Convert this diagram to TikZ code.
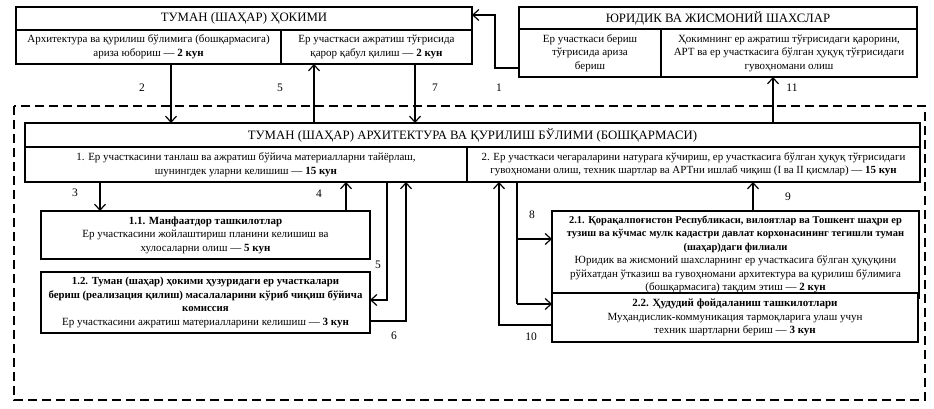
\documentclass[tikz,border=0pt]{standalone}
\usepackage{fontspec}
\setmainfont{Liberation Serif}
\usetikzlibrary{arrows.meta}
\begin{document}
\begin{tikzpicture}[x=1pt,y=-1pt,
  box/.style={draw, line width=1.6pt, fill=white, inner sep=0pt, outer sep=0pt, anchor=north west, align=center, font=\fontsize{11}{13.5}\selectfont},
  ttl/.style={box, font=\fontsize{12.8}{14}\selectfont},
  arr/.style={line width=1.3pt, -{Straight Barb[length=6pt,width=11pt,line width=1.2pt]}},
  ln/.style={line width=1.3pt},
  lbl/.style={font=\fontsize{11.5}{13}\selectfont, inner sep=0pt},
  frame/.style={line width=1.6pt, dash pattern=on 9pt off 5pt}]
\useasboundingbox (0,0) rectangle (934,409);
% dashed frame
\draw[frame] (14,106) rectangle (925,400);
% helper coordinates
\coordinate (x100) at (100,0); \coordinate (x171) at (171,0); \coordinate (x314) at (314,0);
\coordinate (x346) at (346,0); \coordinate (x387) at (387,0); \coordinate (x406) at (406,0);
\coordinate (x415) at (415,0); \coordinate (x495) at (495,0); \coordinate (x499) at (499,0);
\coordinate (x517) at (517,0); \coordinate (x753) at (753,0); \coordinate (x773) at (773,0);
\coordinate (y15) at (0,15); \coordinate (y68) at (0,68); \coordinate (y239) at (0,239);
\coordinate (y300) at (0,300); \coordinate (y304) at (0,304); \coordinate (y321) at (0,321);
\coordinate (y325) at (0,325);
% top-left box
\node[ttl, minimum width=456pt, minimum height=23pt] (hkt) at (16,7) {ТУМАН (ШАҲАР) ҲОКИМИ};
\node[box, minimum width=265pt, minimum height=34pt] (hkl) at (16,30) {Архитектура ва қурилиш бўлимига (бошқармасига)\\ариза юбориш — \textbf{2 кун}};
\node[box, minimum width=191pt, minimum height=34pt] (hkr) at (281,30) {Ер участкаси ажратиш тўғрисида\\қарор қабул қилиш — \textbf{2 кун}};
% top-right box
\node[ttl, minimum width=398pt, minimum height=22pt] (yt) at (519,7) {ЮРИДИК ВА ЖИСМОНИЙ ШАХСЛАР};
\node[box, minimum width=142pt, minimum height=48pt] (yl) at (519,29) {Ер участкаси бериш\\тўғрисида ариза\\бериш};
\node[box, minimum width=256pt, minimum height=48pt] (yr) at (661,29) {Ҳокимнинг ер ажратиш тўғрисидаги қарорини,\\АРТ ва ер участкасига бўлган ҳуқуқ тўғрисидаги\\гувоҳномани олиш};
% main box
\node[ttl, minimum width=895pt, minimum height=24pt] (mt) at (25,123) {ТУМАН (ШАҲАР) АРХИТЕКТУРА ВА ҚУРИЛИШ БЎЛИМИ (БОШҚАРМАСИ)};
\node[box, minimum width=442pt, minimum height=35pt] (ml) at (25,147) {1. Ер участкасини танлаш ва ажратиш бўйича материалларни тайёрлаш,\\шунингдек уларни келишиш — \textbf{15 кун}};
\node[box, minimum width=453pt, minimum height=35pt, font=\fontsize{10.9}{13}\selectfont] (mr) at (467,147) {2. Ер участкаси чегараларини натурага кўчириш, ер участкасига бўлган ҳуқуқ тўғрисидаги\\гувоҳномани олиш, техник шартлар ва АРТни ишлаб чиқиш (I ва II қисмлар) — \textbf{15 кун}};
% sub boxes
\node[box, minimum width=329pt, minimum height=48pt] (b11) at (41,211) {\textbf{1.1. Манфаатдор ташкилотлар}\\Ер участкасини жойлаштириш планини келишиш ва\\хулосаларни олиш — \textbf{5 кун}};
\node[box, minimum width=329pt, minimum height=61pt] (b12) at (41,272) {\textbf{\fontsize{10.8}{13.5}\selectfont 1.2. Туман (шаҳар) ҳокими ҳузуридаги ер участкалари}\\\textbf{\fontsize{10.8}{13.5}\selectfont бериш (реализация қилиш) масалаларини кўриб чиқиш бўйича}\\\textbf{\fontsize{10.8}{13.5}\selectfont комиссия}\\Ер участкасини ажратиш материалларини келишиш — \textbf{3 кун}};
\node[box, minimum width=367pt, minimum height=87pt] (b21) at (552,211) {\textbf{\fontsize{10.5}{13.5}\selectfont 2.1. Қорақалпоғистон Республикаси, вилоятлар ва Тошкент шаҳри ер}\\\textbf{\fontsize{10.5}{13.5}\selectfont тузиш ва кўчмас мулк кадастри давлат корхонасининг тегишли туман}\\\textbf{\fontsize{10.5}{13.5}\selectfont (шаҳар)даги филиали}\\Юридик ва жисмоний шахсларнинг ер участкасига бўлган ҳуқуқини\\рўйхатдан ўтказиш ва гувоҳномани архитектура ва қурилиш бўлимига\\(бошқармасига) тақдим этиш — \textbf{2 кун}};
\node[box, minimum width=366pt, minimum height=49pt] (b22) at (552,293) {\textbf{2.2. Ҳудудий фойдаланиш ташкилотлари}\\Муҳандислик-коммуникация тармоқларига улаш учун\\техник шартларни бериш — \textbf{3 кун}};
% connectors
\draw[arr] (yl.west |- y68) -- (x495 |- y68) -- (x495 |- y15) -- (hkt.east |- y15);
\draw[arr] (hkl.south -| x171) -- (mt.north -| x171);
\draw[arr] (mt.north -| x314) -- (hkr.south -| x314);
\draw[arr] (hkr.south -| x415) -- (mt.north -| x415);
\draw[arr] (mt.north -| x773) -- (yr.south -| x773);
\draw[arr] (ml.south -| x100) -- (b11.north -| x100);
\draw[arr] (b11.north -| x346) -- (ml.south -| x346);
\draw[arr] (ml.south -| x387) -- (x387 |- y300) -- (b12.east |- y300);
\draw[arr] (b12.east |- y321) -- (x406 |- y321) -- (ml.south -| x406);
\draw[ln] (mr.south -| x517) -- (x517 |- y304);
\draw[arr] (x517 |- y239) -- (b21.west |- y239);
\draw[arr] (x517 |- y304) -- (b22.west |- y304);
\draw[arr] (b21.north -| x753) -- (mr.south -| x753);
\draw[arr] (b22.west |- y325) -- (x499 |- y325) -- (mr.south -| x499);
% labels
\node[lbl] (l2) at (142,88) {2};
\node[lbl] (l5a) at (280,88) {5};
\node[lbl] (l7) at (435,88) {7};
\node[lbl] (l1) at (499,88) {1};
\node[lbl] (l11) at (792,88) {11};
\node[lbl] (l3) at (75,193) {3};
\node[lbl] (l4) at (319,194) {4};
\node[lbl] (l5b) at (378,265) {5};
\node[lbl] (l6) at (394,336) {6};
\node[lbl] (l8) at (532,215) {8};
\node[lbl] (l9) at (788,197) {9};
\node[lbl] (l10) at (531,337) {10};
\end{tikzpicture}
\end{document}
